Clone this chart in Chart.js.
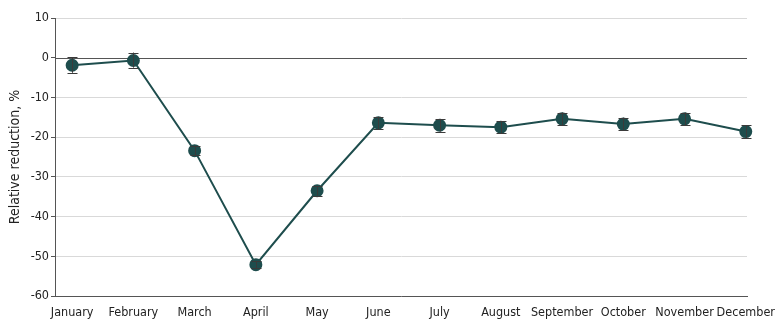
<!DOCTYPE html>
<html>
<head>
<meta charset="utf-8">
<script src="https://cdn.jsdelivr.net/npm/chart.js@4/dist/chart.umd.min.js"></script>
<style>
html,body{margin:0;padding:0;background:#fff;}
#wrap{width:780px;height:328px;position:relative;}
</style>
</head>
<body>
<div id="wrap"><canvas id="c" width="780" height="328"></canvas></div>
<script>
const months = ["January","February","March","April","May","June","July","August","September","October","November","December"];
const values = [-1.9, -0.7, -23.4, -52.1, -33.5, -16.4, -17.0, -17.5, -15.4, -16.7, -15.4, -18.6];
const lower  = [-3.8, -2.5, -24.6, -53.0, -34.7, -17.9, -18.6, -19.0, -17.0, -18.3, -17.0, -20.2];
const upper  = [ 0.1,  1.3, -22.2, -51.2, -32.3, -14.9, -15.4, -16.0, -13.8, -15.1, -13.8, -17.0];
const yTicks = [10, 0, -10, -20, -30, -40, -50, -60];

const FONT = "'DejaVu Sans Condensed', 'DejaVu Sans', sans-serif";
const LINE = "#1e4d4d";

const errorBars = {
  id: 'errorBars',
  afterDatasetsDraw(chart) {
    const ctx = chart.ctx, xs = chart.scales.x, ys = chart.scales.y;
    ctx.save();
    ctx.strokeStyle = "#3a3a3a";
    ctx.lineWidth = 1;
    for (let i = 0; i < values.length; i++) {
      const x = Math.round(xs.getPixelForValue(i)) + 0.5;
      const yl = ys.getPixelForValue(lower[i]);
      const yu = ys.getPixelForValue(upper[i]);
      ctx.beginPath();
      ctx.moveTo(x, yl); ctx.lineTo(x, yu);
      ctx.moveTo(x - 5, Math.round(yl) + 0.5); ctx.lineTo(x + 5, Math.round(yl) + 0.5);
      ctx.moveTo(x - 5, Math.round(yu) + 0.5); ctx.lineTo(x + 5, Math.round(yu) + 0.5);
      ctx.stroke();
    }
    ctx.restore();
  }
};

const zeroLine = {
  id: 'zeroLine',
  beforeDatasetsDraw(chart) {
    const ctx = chart.ctx, ys = chart.scales.y, a = chart.chartArea;
    const y = Math.round(ys.getPixelForValue(0)) + 0.5;
    ctx.save();
    ctx.strokeStyle = "#555";
    ctx.lineWidth = 1;
    ctx.beginPath(); ctx.moveTo(a.left, y); ctx.lineTo(a.right, y); ctx.stroke();
    ctx.restore();
  }
};

new Chart(document.getElementById('c'), {
  type: 'line',
  data: {
    datasets: [{
      data: values.map((v, i) => ({x: i, y: v})),
      borderColor: LINE,
      backgroundColor: LINE,
      borderWidth: 2,
      pointRadius: 5.5,
      pointHoverRadius: 5.5,
      pointBackgroundColor: LINE,
      pointBorderColor: LINE,
      tension: 0,
      clip: false
    }]
  },
  plugins: [zeroLine, errorBars],
  options: {
    responsive: false,
    animation: false,
    events: [],
    layout: { padding: { top: 18, right: 32, left: 7, bottom: 0 } },
    plugins: { legend: { display: false }, tooltip: { enabled: false } },
    scales: {
      x: {
        type: 'linear',
        min: -0.28,
        max: 11.02,
        afterBuildTicks(scale) {
          scale.ticks = months.map((m, i) => ({ value: i }));
        },
        afterFit(scale) { scale.height = 32; },
        ticks: {
          autoSkip: false,
          maxRotation: 0,
          padding: 5,
          color: "#222",
          font: { family: FONT, size: 12.5 },
          callback: (v) => months[v]
        },
        grid: { display: false, drawOnChartArea: false, drawTicks: true, tickLength: 4, color: "#555" },
        border: { display: true, color: "#555", width: 1 }
      },
      y: {
        min: -60,
        max: 10,
        afterBuildTicks(scale) {
          scale.ticks = yTicks.map(v => ({ value: v }));
        },
        afterFit(scale) { scale.width = 48; },
        title: {
          display: true,
          text: "Relative reduction, %",
          color: "#222",
          font: { family: FONT, size: 14 },
          padding: { top: 0, bottom: 4 }
        },
        ticks: {
          color: "#222",
          padding: 2,
          font: { family: FONT, size: 12.5 },
          callback: (v) => String(v)
        },
        grid: {
          color: (c) => c.tick && c.tick.value === 0 ? "rgba(0,0,0,0)" : "#d9d9d9",
          tickColor: "#555",
          tickLength: 4,
          drawTicks: true
        },
        border: { display: true, color: "#555", width: 1 }
      }
    }
  }
});
</script>
</body>
</html>
